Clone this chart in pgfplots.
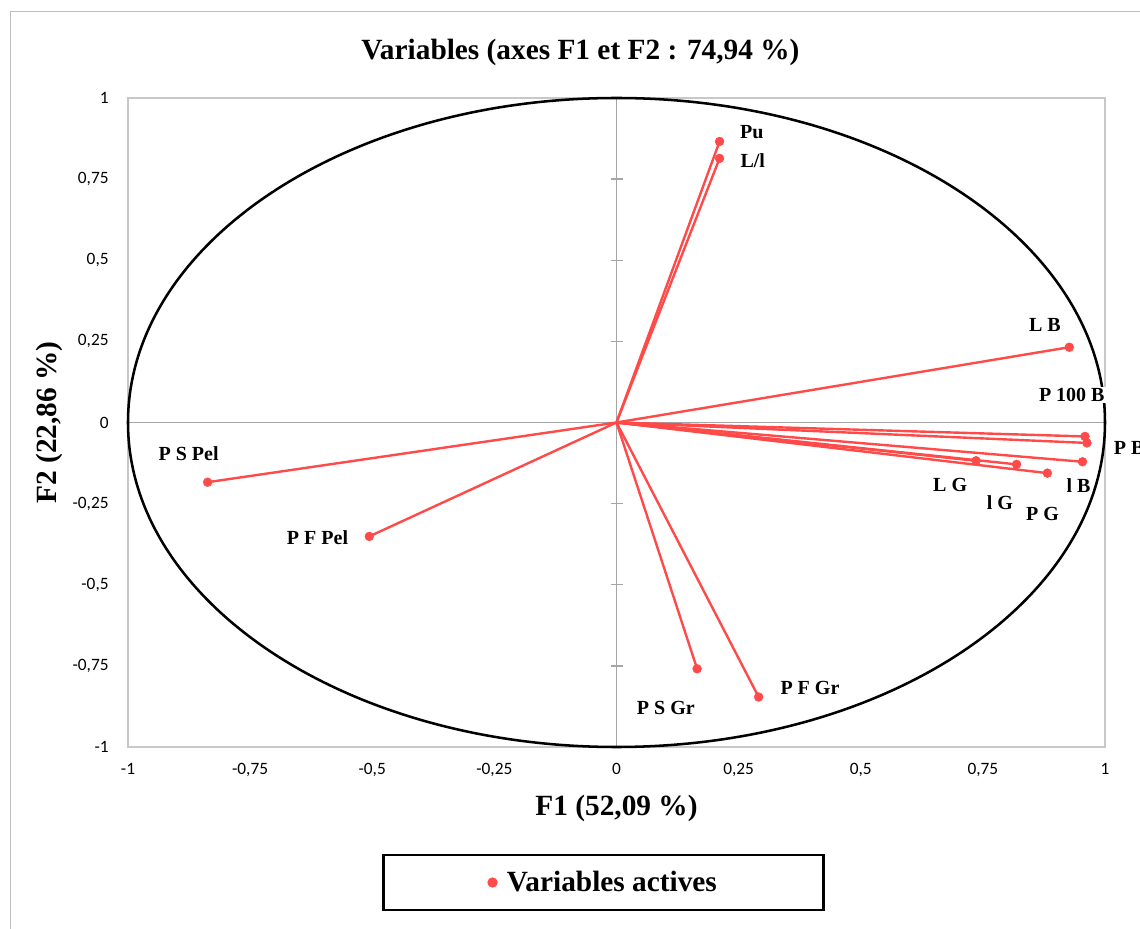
\documentclass[border=0pt]{standalone}
\usepackage{pgfplots}
\pgfplotsset{compat=1.18}
\usepackage{pgfplotstable}
\usepackage{fontspec}
\setmainfont{Liberation Serif}
\newfontfamily\calibri{Carlito}
\definecolor{vred}{RGB}{255,74,74}
\definecolor{framegray}{RGB}{200,200,200}
\definecolor{axgray}{RGB}{166,166,166}
\definecolor{outgray}{RGB}{190,190,190}

\pgfplotstableread[col sep=comma]{
name,x0,y0,x,y
Pu,0,0,0.211,0.866
L/l,0,0,0.211,0.814
L B,0,0,0.927,0.232
P 100 B,0,0,0.959,-0.043
P B,0,0,0.963,-0.063
l B,0,0,0.954,-0.121
L G,0,0,0.736,-0.118
l G,0,0,0.819,-0.129
P G,0,0,0.882,-0.156
P S Pel,0,0,-0.837,-0.184
P F Pel,0,0,-0.506,-0.351
P S Gr,0,0,0.165,-0.759
P F Gr,0,0,0.291,-0.846
}\vars

\pgfplotstableread[col sep=comma]{
lx,ly,label
0.277,0.894,Pu
0.279,0.807,L/l
0.877,0.299,L B
0.932,0.086,P 100 B
0.946,-0.194,l B
0.683,-0.194,L G
0.785,-0.247,l G
0.872,-0.281,P G
-0.876,-0.096,P S Pel
-0.612,-0.354,P F Pel
0.101,-0.881,P S Gr
0.396,-0.817,P F Gr
}\labs

\pgfplotstableread[col sep=comma]{
lx,ly,label
1.015,-0.080,P B
}\labsw

\begin{document}
\begin{tikzpicture}
\begin{scope}
\clip (0,0) rectangle (855pt,696.75pt);
\draw[outgray, line width=0.75pt] (7.5pt,-20pt) rectangle (880pt,687.75pt);
\begin{axis}[
  at={(96pt,136.5pt)}, anchor=south west,
  width=732.75pt, height=486.75pt, scale only axis,
  xmin=-1, xmax=1, ymin=-1, ymax=1,
  clip=false,
  xtick={-1,-0.75,-0.5,-0.25,0,0.25,0.5,0.75,1},
  ytick={-1,-0.75,-0.5,-0.25,0,0.25,0.5,0.75,1},
  major tick length=0pt,
  axis line style={draw=framegray, line width=0.9pt},
  /pgf/number format/.cd, use comma, fixed, precision=2, assume math mode=true,
  /pgfplots/.cd,
  tick label style={font=\calibri\fontsize{13}{13}\selectfont, text=black},
  xticklabel style={yshift=-9pt},
  yticklabel style={xshift=-11pt},
  title={Variables (axes F1 et F2 : 74,94 \%)},
  title style={at={(axis description cs:0.5,1)}, anchor=center, xshift=-27pt, yshift=28.5pt, font=\bfseries\fontsize{22}{26}\selectfont},
  xlabel={F1 (52,09 \%)},
  xlabel style={at={(axis description cs:0.5,0)}, anchor=center, yshift=-45.75pt, font=\bfseries\fontsize{22}{26}\selectfont},
  ylabel={F2 (22,86 \%)},
  ylabel style={at={(axis description cs:-0.0804,0.5)}, anchor=center, font=\bfseries\fontsize{22}{26}\selectfont},
  legend style={at={(0.4867,-0.2088)}, anchor=center, draw=black, line width=1.6pt,
    font=\bfseries\fontsize{22}{26}\selectfont, inner xsep=78pt, inner ysep=10pt},
  legend image code/.code={\path (-1pt,0pt) (9pt,0pt); \fill[vred] (1pt,0pt) circle (3pt);},
]
\draw[axgray, line width=1pt] (axis cs:-1,0) -- (axis cs:1,0);
\draw[axgray, line width=1pt] (axis cs:0,-1) -- (axis cs:0,1);
\pgfplotsinvokeforeach{-1,-0.75,-0.5,-0.25,0.25,0.5,0.75,1}{
  \draw[axgray, line width=1pt] ([xshift=-4.5pt]axis cs:0,#1) -- ([xshift=4.5pt]axis cs:0,#1);
}
\draw[black, line width=1.9pt] (axis cs:0,0) ellipse [x radius=1, y radius=1];
\addplot[forget plot, vred, line width=1.8pt, quiver={u=\thisrow{x}, v=\thisrow{y}}] table[x=x0, y=y0] {\vars};
\addplot[only marks, mark=*, mark size=3.3pt, vred] table[x=x, y=y] {\vars};
\addlegendentry{Variables actives}
\addplot[forget plot, only marks, mark=none, nodes near coords, point meta=explicit symbolic,
  every node near coord/.style={anchor=center, fill=white, inner sep=1pt, text=black, font=\bfseries\fontsize{15}{15}\selectfont}]
  table[x=lx, y=ly, meta=label] {\labs};
\addplot[forget plot, only marks, mark=none, nodes near coords, point meta=explicit symbolic,
  every node near coord/.style={anchor=west, fill=white, inner sep=1pt, text=black, font=\bfseries\fontsize{15}{15}\selectfont}]
  table[x=lx, y=ly, meta=label] {\labsw};
\end{axis}
\end{scope}
\pgfresetboundingbox
\path[use as bounding box] (0,0) rectangle (855pt,696.75pt);
\end{tikzpicture}
\end{document}
